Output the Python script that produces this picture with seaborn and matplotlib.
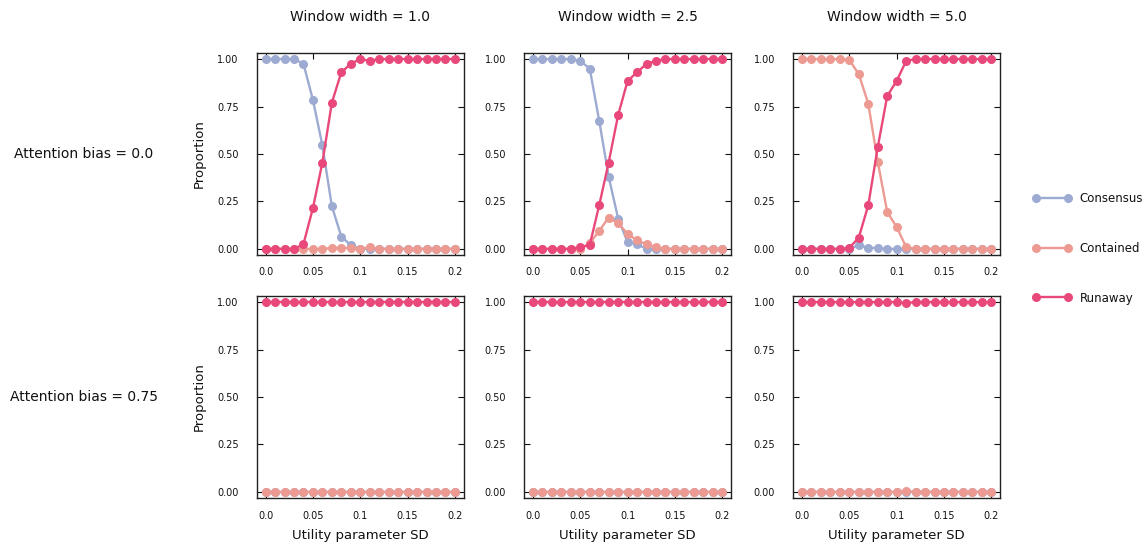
import numpy as np
import pandas as pd
import seaborn as sns
import matplotlib.pyplot as plt

# utility parameter SD grid
sd = [round(0.01 * i, 2) for i in range(21)]

outcomes = ["Consensus", "Contained", "Runaway"]
widths = ["1.0", "2.5", "5.0"]
biases = ["0.0", "0.75"]

# attention bias = 0.0
cons_b0_w1 = [1, 1, 1, 1, 0.975, 0.785, 0.545, 0.225, 0.065, 0.02, 0, 0, 0, 0, 0, 0, 0, 0, 0, 0, 0]
cont_b0_w1 = [0, 0, 0, 0, 0, 0, 0, 0.005, 0.005, 0.005, 0, 0.01, 0, 0, 0, 0, 0, 0, 0, 0, 0]
run_b0_w1 = [0, 0, 0, 0, 0.025, 0.215, 0.455, 0.77, 0.93, 0.975, 1.0, 0.99, 1, 1, 1, 1, 1, 1, 1, 1, 1]

cons_b0_w2 = [1, 1, 1, 1, 1, 0.99, 0.95, 0.675, 0.38, 0.16, 0.035, 0.025, 0, 0, 0, 0, 0, 0, 0, 0, 0]
cont_b0_w2 = [0, 0, 0, 0, 0, 0, 0.03, 0.095, 0.165, 0.135, 0.08, 0.045, 0.025, 0.01, 0, 0, 0, 0, 0, 0, 0]
run_b0_w2 = [0, 0, 0, 0, 0, 0.01, 0.02, 0.23, 0.455, 0.705, 0.885, 0.93, 0.975, 0.99, 1, 1, 1, 1, 1, 1, 1]

cons_b0_w3 = [0, 0, 0, 0, 0, 0, 0.02, 0.005, 0.005, 0, 0, 0, 0, 0, 0, 0, 0, 0, 0, 0, 0]
cont_b0_w3 = [1, 1, 1, 1, 1, 0.995, 0.92, 0.765, 0.46, 0.195, 0.115, 0.01, 0, 0, 0, 0, 0, 0, 0, 0, 0]
run_b0_w3 = [0, 0, 0, 0, 0, 0.005, 0.06, 0.23, 0.535, 0.805, 0.885, 0.99, 1, 1, 1, 1, 1, 1, 1, 1, 1]

# attention bias = 0.75
cons_b1_w1 = [0] * 21
cont_b1_w1 = [0] * 21
run_b1_w1 = [1] * 21

cons_b1_w2 = [0] * 21
cont_b1_w2 = [0] * 21
run_b1_w2 = [1] * 21

cons_b1_w3 = [0] * 21
cont_b1_w3 = [0, 0, 0, 0, 0, 0, 0, 0, 0, 0, 0, 0.005, 0, 0, 0, 0, 0, 0, 0, 0, 0]
run_b1_w3 = [1, 1, 1, 1, 1, 1, 1, 1, 1, 1, 1, 0.995, 1, 1, 1, 1, 1, 1, 1, 1, 1]

series = {
    ("0.0", "1.0"): (cons_b0_w1, cont_b0_w1, run_b0_w1),
    ("0.0", "2.5"): (cons_b0_w2, cont_b0_w2, run_b0_w2),
    ("0.0", "5.0"): (cons_b0_w3, cont_b0_w3, run_b0_w3),
    ("0.75", "1.0"): (cons_b1_w1, cont_b1_w1, run_b1_w1),
    ("0.75", "2.5"): (cons_b1_w2, cont_b1_w2, run_b1_w2),
    ("0.75", "5.0"): (cons_b1_w3, cont_b1_w3, run_b1_w3),
}

rows = []
for (b, w), vals in series.items():
    for name, v in zip(outcomes, vals):
        for x, y in zip(sd, v):
            rows.append({"bias": b, "width": w, "outcome": name, "sd": x, "prop": y})
df = pd.DataFrame(rows)

sns.set_theme(style="ticks")
plt.rcParams.update({
    "xtick.direction": "in", "ytick.direction": "in",
    "xtick.top": True, "ytick.right": True,
    "xtick.labelsize": 7, "ytick.labelsize": 7,
    "axes.edgecolor": "#222222", "axes.linewidth": 1.0,
    "text.color": "#111111", "axes.labelcolor": "#111111",
    "xtick.color": "#111111", "ytick.color": "#111111",
})
plt.rcParams["font.family"] = ["DejaVu Sans"]

pal = {"Consensus": "#9daad2", "Contained": "#ec9a92", "Runaway": "#e8497a"}

fig = plt.figure(figsize=(11.44, 5.46), dpi=100)
lefts = [0.2243, 0.4580, 0.6932]
bottoms = [0.533, 0.0879]
w_ax, h_ax = 0.1812, 0.370

handles = None
for i, b in enumerate(biases):
    for j, w in enumerate(widths):
        ax = fig.add_axes([lefts[j], bottoms[i], w_ax, h_ax])
        sub = df[(df["bias"] == b) & (df["width"] == w)]
        sns.lineplot(data=sub, x="sd", y="prop", hue="outcome", hue_order=outcomes,
                     palette=pal, marker="o", markersize=6.5, markeredgewidth=0,
                     linewidth=1.7, ax=ax, legend=True)
        handles, labels = ax.get_legend_handles_labels()
        ax.get_legend().remove()
        ax.set_xlim(-0.0095, 0.2095)
        ax.set_ylim(-0.032, 1.032)
        ax.set_xticks([0, 0.05, 0.1, 0.15, 0.2])
        ax.set_xticklabels(["0.0", "0.05", "0.1", "0.15", "0.2"])
        ax.set_yticks([0, 0.25, 0.5, 0.75, 1.0])
        ax.set_yticklabels(["0.00", "0.25", "0.50", "0.75", "1.00"])
        ax.tick_params(length=4, width=0.8)
        ax.tick_params(axis="y", pad=13)
        ax.tick_params(axis="x", pad=9)
        ax.set_xlabel("Utility parameter SD" if i == 1 else "", fontsize=9.5, labelpad=6)
        ax.set_ylabel("Proportion" if j == 0 else "", fontsize=9.5, labelpad=8)
        if i == 0:
            ax.set_title(f"Window width = {w}", fontsize=10, pad=23)
        if j == 0:
            ax.text(-0.835, 0.5, f"Attention bias = {b}", transform=ax.transAxes,
                    ha="center", va="center", fontsize=10)

fig.legend(handles, labels, loc="center left", bbox_to_anchor=(0.893, 0.545),
           frameon=False, fontsize=8.5, labelspacing=3.1, handlelength=3.3,
           numpoints=2, handletextpad=0.7)

fig.savefig("out.png", dpi=100)
